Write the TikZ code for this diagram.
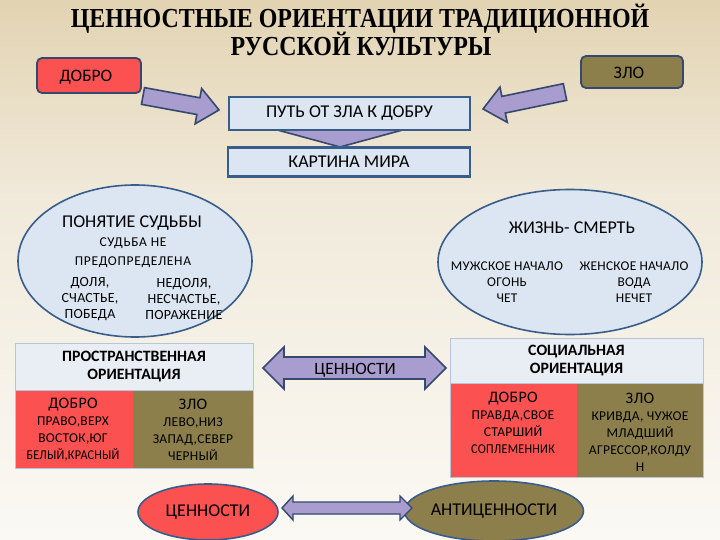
\documentclass[tikz,border=0pt]{standalone}
\usepackage{fontspec}
\usetikzlibrary{shapes.geometric}
\setmainfont{Carlito}
\newfontfamily\titlefont{Liberation Serif}
\newfontfamily\spc[LetterSpace=5]{Carlito}
\newfontfamily\spcs[LetterSpace=2]{Carlito}
\definecolor{redc}{HTML}{FB5151}
\definecolor{olivec}{HTML}{8C7F4C}
\definecolor{lav}{HTML}{A99CCF}
\definecolor{navy}{HTML}{34496B}
\definecolor{lblue}{HTML}{DCE6F2}
\definecolor{hdr}{HTML}{E9EDF4}
\definecolor{bdr}{HTML}{385D8A}
\definecolor{tbdr}{HTML}{B7C5D8}
\definecolor{bgtop}{HTML}{E2D3B2}
\definecolor{bgmid}{HTML}{F1EADB}
\definecolor{bgbot}{HTML}{FBF9F4}
\tikzset{
  rbox/.style={draw=navy, line width=1.8pt, rounded corners=5pt, inner sep=0pt},
  lbox/.style={draw=bdr, line width=2.2pt, fill=lblue, inner sep=0pt},
  ell/.style={ellipse, draw=bdr, line width=1.6pt, inner sep=0pt},
  arrowst/.style={draw=navy, line width=1.6pt, fill=lav, line join=miter},
  txt/.style={inner sep=0pt, text=black},
  cell/.style={inner sep=0pt, text=black, font=\spcs\fontsize{13.5}{17}\selectfont, align=center},
  big/.style={font=\fontsize{18}{18}\selectfont},
}
\newcommand\blkarrow[5]{% tail, page angle, length, shaft half, head half (head length = head half + 3)
  \begin{scope}[shift={#1}, rotate=#2]
    \draw[arrowst] (0,-#4) -- ({#3-#5-3},-#4) -- ({#3-#5-3},-#5) -- (#3,0) -- ({#3-#5-3},#5) -- ({#3-#5-3},#4) -- (0,#4) -- cycle;
  \end{scope}}
\begin{document}
\begin{tikzpicture}[x=1pt,y=-1pt]
\useasboundingbox (0,0) rectangle (720,540);
\fill[top color=bgtop, bottom color=bgmid] (0,0) rectangle (720,200.5);
\fill[top color=bgmid, bottom color=bgbot] (0,200) rectangle (720,540);

% title
\node[txt, font=\titlefont\bfseries\fontsize{27.5}{27.5}\selectfont] (t1) at (360,19) {\scalebox{0.87}[1]{ЦЕННОСТНЫЕ ОРИЕНТАЦИИ ТРАДИЦИОННОЙ}};
\node[txt, font=\titlefont\bfseries\fontsize{27.5}{27.5}\selectfont] (t2) at (361,44) {\scalebox{0.87}[1]{РУССКОЙ КУЛЬТУРЫ}};

% down arrow behind boxes
\draw[arrowst] (320,112) -- (360,112) -- (360,128) -- (410,128) -- (340,147) -- (270,128) -- (320,128) -- cycle;

% top boxes
\node[rbox, fill=redc, minimum width=104pt, minimum height=35pt] (dobro) at (89,75.5) {};
\node[txt, font=\fontsize{17.5}{17.5}\selectfont] (dobrot) at (86,77) {ДОБРО};
\node[rbox, fill=olivec, minimum width=102pt, minimum height=32pt] (zlo) at (632,72) {};
\node[txt, font=\fontsize{17.5}{17.5}\selectfont] (zlot) at (629,73) {ЗЛО};

\node[lbox, minimum width=241pt, minimum height=33pt, big] (put) at (349.5,113.5) {ПУТЬ ОТ ЗЛА К ДОБРУ};
\node[lbox, minimum width=242pt, minimum height=29pt, big] (kart) at (349,162) {КАРТИНА МИРА};

% slanted arrows
\blkarrow{(143,96)}{-10.4}{77.3}{8.5}{18}
\blkarrow{(565,92)}{-168.3}{83.7}{8.5}{18}

% ellipses
\node[ell, fill=lblue, minimum width=234pt, minimum height=152pt] (fate) at (135,261) {};
\node[txt, big] (fate1) at (132,223) {ПОНЯТИЕ СУДЬБЫ};
\node[txt, font=\spc\fontsize{13.5}{13.5}\selectfont] (fate2) at (133,243) {СУДЬБА НЕ};
\node[txt, font=\spc\fontsize{13.5}{13.5}\selectfont] (fate3) at (133,262) {ПРЕДОПРЕДЕЛЕНА};
\node[cell, font=\spcs\fontsize{14}{16}\selectfont] (fate4) at (90,299) {ДОЛЯ,\\СЧАСТЬЕ,\\ПОБЕДА};
\node[cell, font=\spcs\fontsize{14}{16}\selectfont] (fate5) at (184,299) {НЕДОЛЯ,\\НЕСЧАСТЬЕ,\\ПОРАЖЕНИЕ};

\node[ell, fill=lblue, minimum width=264pt, minimum height=145pt] (life) at (570,262) {};
\node[txt, big] (life1) at (572,228) {ЖИЗНЬ- СМЕРТЬ};
\node[cell, font=\spcs\fontsize{13.4}{16}\selectfont] (life2) at (507,282) {МУЖСКОЕ НАЧАЛО\\ОГОНЬ\\ЧЕТ};
\node[cell, font=\spcs\fontsize{13.4}{16}\selectfont] (life3) at (634,282) {ЖЕНСКОЕ НАЧАЛО\\ВОДА\\НЕЧЕТ};

% left table
\fill[redc] (15,390) rectangle (133,468);
\fill[olivec] (133,390) rectangle (253,468);
\node[draw=tbdr, line width=0.8pt, fill=hdr, minimum width=238pt, minimum height=47pt, inner sep=0pt, align=center, font=\bfseries\fontsize{15.8}{18.5}\selectfont] (spat) at (134,366.5) {ПРОСТРАНСТВЕННАЯ\\ОРИЕНТАЦИЯ};
\draw[tbdr, line width=0.8pt] (15,390) rectangle (253,468);
\node[cell] (spat1) at (73,430) {{\fontsize{16}{16}\selectfont ДОБРО}\\ПРАВО,ВЕРХ\\ВОСТОК,ЮГ\\\scalebox{0.9}[1]{БЕЛЫЙ,КРАСНЫЙ}};
\node[cell] (spat2) at (193,430) {{\fontsize{16}{16}\selectfont ЗЛО}\\ЛЕВО,НИЗ\\ЗАПАД,СЕВЕР\\ЧЕРНЫЙ};

% right table
\fill[redc] (450,383) rectangle (577,477);
\fill[olivec] (577,383) rectangle (703,477);
\node[draw=tbdr, line width=0.8pt, fill=hdr, minimum width=253pt, minimum height=45pt, inner sep=0pt, align=center, font=\bfseries\fontsize{15.8}{18.5}\selectfont] (soc) at (576.5,360.5) {СОЦИАЛЬНАЯ\\ОРИЕНТАЦИЯ};
\draw[tbdr, line width=0.8pt] (450,383) rectangle (703,477);
\node[cell] (soc1) at (513,423) {{\fontsize{16}{16}\selectfont ДОБРО}\\ПРАВДА,СВОЕ\\СТАРШИЙ\\\scalebox{0.9}[1]{СОПЛЕМЕННИК}};
\node[cell] (soc2) at (640,432) {{\fontsize{16}{16}\selectfont ЗЛО}\\КРИВДА, ЧУЖОЕ\\МЛАДШИЙ\\АГРЕССОР,КОЛДУ\\Н};

% middle double arrow
\draw[arrowst] (263,368) -- (284,347) -- (284,357) -- (425,357) -- (425,347) -- (446,368) -- (425,389) -- (425,379) -- (284,379) -- (284,389) -- cycle;
\node[txt, font=\fontsize{17.3}{17.3}\selectfont] (cenn) at (355,370) {ЦЕННОСТИ};

% bottom ellipses and arrow
\node[ell, fill=redc, minimum width=140pt, minimum height=56pt, big] (val) at (208,512) {ЦЕННОСТИ};
\node[ell, fill=olivec, minimum width=168pt, minimum height=60pt, big] (antival) at (494,511) {АНТИЦЕННОСТИ};
\draw[arrowst, line width=1.4pt] (282,508) -- (293,496) -- (293,502) -- (400,502) -- (400,496) -- (412,508) -- (400,520) -- (400,514) -- (293,514) -- (293,520) -- cycle;
\end{tikzpicture}
\end{document}
